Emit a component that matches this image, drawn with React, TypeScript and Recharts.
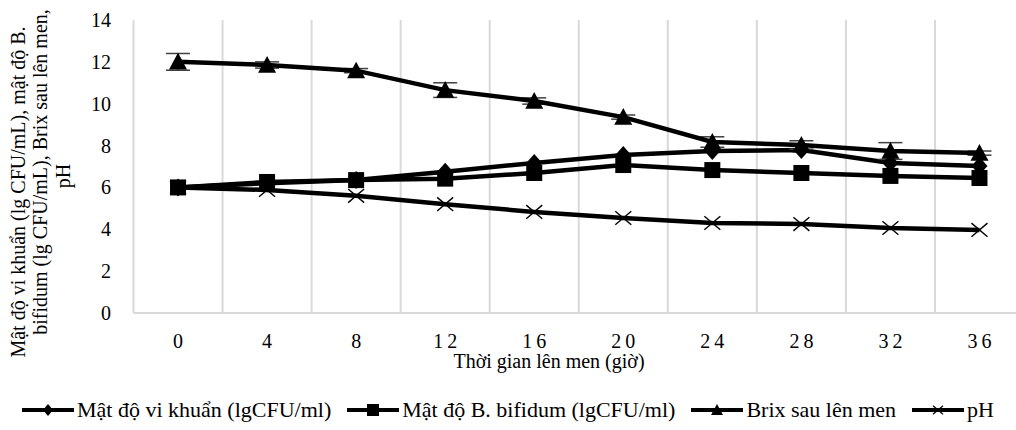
import React from "react";
import {
  LineChart,
  Line,
  XAxis,
  YAxis,
  ReferenceLine,
  ErrorBar,
} from "recharts";

const hours = [0, 4, 8, 12, 16, 20, 24, 28, 32, 36];
const viKhuan = [6.0, 6.2, 6.35, 6.75, 7.17, 7.55, 7.74, 7.79, 7.17, 7.02];
const bifidum = [6.0, 6.26, 6.35, 6.42, 6.69, 7.07, 6.83, 6.69, 6.55, 6.45];
const brix = [12.0, 11.85, 11.58, 10.65, 10.13, 9.36, 8.17, 8.03, 7.74, 7.64];
const brixErr = [0.4, 0.15, 0.1, 0.35, 0.15, 0.1, 0.25, 0.2, 0.4, 0.1];
const ph = [6.0, 5.88, 5.6, 5.2, 4.83, 4.54, 4.3, 4.25, 4.06, 3.97];
const yTicks = [0, 2, 4, 6, 8, 10, 12, 14];
const gridBetween = [2, 6, 10, 14, 18, 22, 26, 30, 34];

const seriesNames = [
  "Mật độ vi khuẩn (lgCFU/ml)",
  "Mật độ B. bifidum (lgCFU/ml)",
  "Brix sau lên men",
  "pH",
];

const data = hours.map((h, i) => ({
  time: h,
  viKhuan: viKhuan[i],
  bifidum: bifidum[i],
  brix: brix[i],
  brixErr: brixErr[i],
  ph: ph[i],
}));

const FONT = "Liberation Serif, Tinos, Noto Serif, DejaVu Serif, serif";
const GRID = "#d9d9d9";

const Diamond = ({ cx, cy, w = 8, h = 9 }: any) =>
  cx == null ? null : (
    <polygon points={`${cx},${cy - h} ${cx + w},${cy} ${cx},${cy + h} ${cx - w},${cy}`} fill="#000" />
  );
const Square = ({ cx, cy, s = 8 }: any) =>
  cx == null ? null : <rect x={cx - s} y={cy - s} width={s * 2} height={s * 2} fill="#000" />;
const Triangle = ({ cx, cy, w = 9, h = 9 }: any) =>
  cx == null ? null : (
    <polygon points={`${cx},${cy - h} ${cx + w},${cy + h * 0.85} ${cx - w},${cy + h * 0.85}`} fill="#000" />
  );
const Cross = ({ cx, cy, s = 8, sw = 1.4 }: any) =>
  cx == null ? null : (
    <g stroke="#000" strokeWidth={sw}>
      <line x1={cx - s} y1={cy - s * 0.85} x2={cx + s} y2={cy + s * 0.85} />
      <line x1={cx - s} y1={cy + s * 0.85} x2={cx + s} y2={cy - s * 0.85} />
    </g>
  );

// Excel spreads the digits of the hour labels a little
const XTick = ({ x, y, payload }: any) => (
  <text x={x + 2} y={y + 35} textAnchor="middle" fontFamily={FONT} fontSize={20} letterSpacing={4} fill="#000">
    {payload.value}
  </text>
);

const YTick = ({ y, payload }: any) => (
  <text x={111} y={y + 7} textAnchor="end" fontFamily={FONT} fontSize={20} fill="#000">
    {payload.value}
  </text>
);

const YTitle = () => (
  <g fontFamily={FONT} fontSize={20} fill="#000" textAnchor="middle">
    <text transform="translate(25,192) rotate(-90)">Mật độ vi khuẩn (lg CFU/mL), mật độ B.</text>
    <text transform="translate(47,172) rotate(-90)">bifidum (lg CFU/mL), Brix sau lên men,</text>
    <text transform="translate(70,176) rotate(-90)">pH</text>
  </g>
);

const legendIcons = [
  <Diamond cx={26} cy={10} w={5} h={6} />,
  <Square cx={26} cy={10} s={6} />,
  <Triangle cx={26} cy={10} w={6} h={6} />,
  <Cross cx={26} cy={10} s={5} sw={1.1} />,
];

const ChartLegend = () => (
  <div
    style={{
      position: "absolute",
      left: 0,
      top: 397,
      width: 1016,
      display: "flex",
      justifyContent: "center",
      gap: 16,
      fontFamily: FONT,
      fontSize: 22,
      lineHeight: "26px",
      color: "#000",
      whiteSpace: "nowrap",
    }}
  >
    {seriesNames.map((n, i) => (
      <div key={n} style={{ display: "flex", alignItems: "center" }}>
        <svg width={53} height={20}>
          <line x1={0} y1={10} x2={52} y2={10} stroke="#000" strokeWidth={4} />
          {legendIcons[i]}
        </svg>
        <span style={{ marginLeft: 2 }}>{n}</span>
      </div>
    ))}
  </div>
);

export default function App() {
  return (
    <div
      style={{
        position: "absolute",
        left: 0,
        top: 0,
        width: 1016,
        height: 430,
        overflow: "hidden",
        background: "#fff",
      }}
    >
      <LineChart width={1024} height={430} data={data} margin={{ top: 20, right: 0, bottom: 87, left: 0 }}>
        <XAxis
          dataKey="time"
          type="number"
          domain={[-2, 38]}
          ticks={hours}
          tick={<XTick />}
          tickLine={false}
          tickSize={0}
          tickMargin={0}
          height={30}
          axisLine={{ stroke: GRID, strokeWidth: 2 }}
          label={{
            content: () => (
              <text x={549} y={368} textAnchor="middle" fontFamily={FONT} fontSize={20} fill="#000">
                Thời gian lên men (giờ)
              </text>
            ),
          }}
        />
        <YAxis
          domain={[0, 14]}
          ticks={yTicks}
          width={133.5}
          tick={<YTick />}
          tickLine={false}
          tickSize={0}
          axisLine={{ stroke: GRID, strokeWidth: 2 }}
          label={{ content: () => <YTitle /> }}
        />
        {gridBetween.map((g) => (
          <ReferenceLine key={g} x={g} stroke={GRID} strokeWidth={2} />
        ))}
        <Line
          dataKey="ph"
          stroke="#000"
          strokeWidth={4.5}
          dot={<Cross />}
          activeDot={false}
          isAnimationActive={false}
        />
        <Line
          dataKey="viKhuan"
          stroke="#000"
          strokeWidth={4.5}
          dot={<Diamond />}
          activeDot={false}
          isAnimationActive={false}
        />
        <Line
          dataKey="bifidum"
          stroke="#000"
          strokeWidth={4.5}
          dot={<Square />}
          activeDot={false}
          isAnimationActive={false}
        />
        <Line
          dataKey="brix"
          stroke="#000"
          strokeWidth={4.5}
          dot={<Triangle />}
          activeDot={false}
          isAnimationActive={false}
        >
          <ErrorBar dataKey="brixErr" direction="y" width={12} stroke="#404040" strokeWidth={1.5} />
        </Line>
      </LineChart>
      <ChartLegend />
    </div>
  );
}
